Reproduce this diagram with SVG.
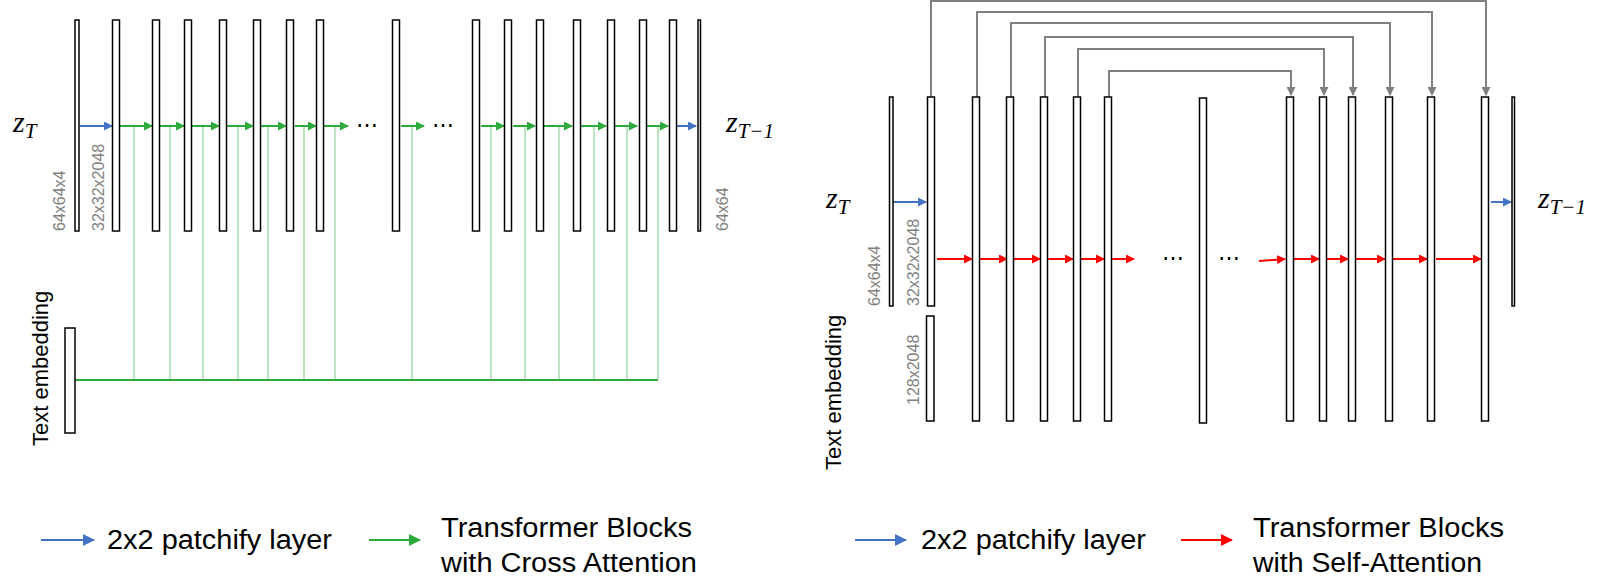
<svg xmlns="http://www.w3.org/2000/svg" width="1600" height="587" viewBox="0 0 1600 587">
<style>
.b{fill:#fff;stroke:#000;stroke-width:1.5}
.g{stroke:#2eaa3c;stroke-width:2;fill:none}
.gl{stroke:#8fd398;stroke-width:1.2;fill:none}
.bl{stroke:#4472c4;stroke-width:2;fill:none}
.r{stroke:#f00;stroke-width:2;fill:none}
.k{stroke:#808080;stroke-width:2;fill:none}
.dim{font-family:"Liberation Sans",Arial,sans-serif;font-size:16px;fill:#808080}
.lab{font-family:"Liberation Sans",Arial,sans-serif;font-size:22px;fill:#000}
.leg{font-family:"Liberation Sans",Arial,sans-serif;font-size:27px;fill:#000}
.z{font-family:"Liberation Serif","DejaVu Serif",serif;font-style:italic;font-size:30px;fill:#000}
.zs{font-size:21px}
.dots{font-family:"Liberation Sans",Arial,sans-serif;font-size:22px;fill:#000}
</style>
<defs>
<marker id="ag" markerWidth="9" markerHeight="9" refX="8" refY="4.5" orient="auto" markerUnits="userSpaceOnUse"><path d="M0,0L9,4.5L0,9z" fill="#2eaa3c"/></marker>
<marker id="ab" markerWidth="9" markerHeight="9" refX="8" refY="4.5" orient="auto" markerUnits="userSpaceOnUse"><path d="M0,0L9,4.5L0,9z" fill="#4472c4"/></marker>
<marker id="ar" markerWidth="9" markerHeight="9" refX="8" refY="4.5" orient="auto" markerUnits="userSpaceOnUse"><path d="M0,0L9,4.5L0,9z" fill="#f00"/></marker>
<marker id="ak" markerWidth="9" markerHeight="9" refX="8" refY="4.5" orient="auto" markerUnits="userSpaceOnUse"><path d="M0,0L9,4.5L0,9z" fill="#808080"/></marker>
<marker id="agL" markerWidth="12" markerHeight="12" refX="11" refY="6" orient="auto" markerUnits="userSpaceOnUse"><path d="M0,0L12,6L0,12z" fill="#2eaa3c"/></marker>
<marker id="abL" markerWidth="12" markerHeight="12" refX="11" refY="6" orient="auto" markerUnits="userSpaceOnUse"><path d="M0,0L12,6L0,12z" fill="#4472c4"/></marker>
<marker id="arL" markerWidth="12" markerHeight="12" refX="11" refY="6" orient="auto" markerUnits="userSpaceOnUse"><path d="M0,0L12,6L0,12z" fill="#f00"/></marker>
</defs>
<rect width="1600" height="587" fill="#fff"/>

<!-- LEFT connectors -->
<g id="left-connectors">
<path class="gl" d="M134,126V380M170,126V380M203,126V380M238,126V380M268,126V380M304,126V380M335,126V380M412,126V380M491,126V380M525,126V380M559,126V380M594,126V380M627,126V380M658,126V380"/>
<path class="g" d="M75,380H658" stroke-width="1.5"/>
<line class="bl" x1="80" y1="126" x2="112" y2="126" marker-end="url(#ab)"/>
<line class="g" x1="120" y1="126" x2="152" y2="126" marker-end="url(#ag)"/>
<line class="g" x1="160" y1="126" x2="184" y2="126" marker-end="url(#ag)"/>
<line class="g" x1="192" y1="126" x2="219" y2="126" marker-end="url(#ag)"/>
<line class="g" x1="227" y1="126" x2="253" y2="126" marker-end="url(#ag)"/>
<line class="g" x1="261" y1="126" x2="286" y2="126" marker-end="url(#ag)"/>
<line class="g" x1="295" y1="126" x2="316" y2="126" marker-end="url(#ag)"/>
<line class="g" x1="324" y1="126" x2="348" y2="126" marker-end="url(#ag)"/>
<line class="g" x1="401" y1="126" x2="424" y2="126" marker-end="url(#ag)"/>
<line class="g" x1="481" y1="126" x2="504" y2="126" marker-end="url(#ag)"/>
<line class="g" x1="513" y1="126" x2="535" y2="126" marker-end="url(#ag)"/>
<line class="g" x1="544" y1="126" x2="572" y2="126" marker-end="url(#ag)"/>
<line class="g" x1="581" y1="126" x2="606" y2="126" marker-end="url(#ag)"/>
<line class="g" x1="615" y1="126" x2="637" y2="126" marker-end="url(#ag)"/>
<line class="g" x1="647" y1="126" x2="668" y2="126" marker-end="url(#ag)"/>
<line class="bl" x1="677" y1="126" x2="696" y2="126" stroke-width="3" marker-end="url(#ab)"/>
</g>
<g id="left-nodes">
<rect class="b" x="75" y="20" width="4" height="211"/>
<rect class="b" x="112.5" y="20" width="7" height="211"/>
<rect class="b" x="152.5" y="20" width="7" height="211"/>
<rect class="b" x="184.5" y="20" width="7" height="211"/>
<rect class="b" x="219.5" y="20" width="7" height="211"/>
<rect class="b" x="253.5" y="20" width="7" height="211"/>
<rect class="b" x="286.5" y="20" width="7" height="211"/>
<rect class="b" x="316.5" y="20" width="7" height="211"/>
<rect class="b" x="392.5" y="20" width="7" height="211"/>
<rect class="b" x="472.5" y="20" width="7" height="211"/>
<rect class="b" x="504.5" y="20" width="7" height="211"/>
<rect class="b" x="536.5" y="20" width="7" height="211"/>
<rect class="b" x="573.5" y="20" width="7" height="211"/>
<rect class="b" x="607.5" y="20" width="7" height="211"/>
<rect class="b" x="639.5" y="20" width="7" height="211"/>
<rect class="b" x="669.5" y="20" width="7" height="211"/>
<rect class="b" x="698" y="20" width="2.5" height="211"/>
<rect class="b" x="65" y="328" width="10" height="105"/>
<text class="dots" x="356" y="132">⋯</text>
<text class="dots" x="432" y="132">⋯</text>
<text class="z" x="13" y="132">z<tspan class="zs" dy="6">T</tspan></text>
<text class="z" x="726" y="132">z<tspan class="zs" dy="6">T−1</tspan></text>
<text class="dim" transform="translate(65,231) rotate(-90)">64x64x4</text>
<text class="dim" transform="translate(104,231) rotate(-90)">32x32x2048</text>
<text class="dim" transform="translate(728,231) rotate(-90)">64x64</text>
<text class="lab" transform="translate(48,446) rotate(-90)">Text embedding</text>
</g>
<g id="left-legend">
<line class="bl" x1="41" y1="540" x2="94" y2="540" stroke-width="4" marker-end="url(#abL)"/>
<text class="leg" x="107" y="549" textLength="225" lengthAdjust="spacingAndGlyphs">2x2 patchify layer</text>
<line class="g" x1="369" y1="540" x2="420" y2="540" stroke-width="4" marker-end="url(#agL)"/>
<text class="leg" x="441" y="537" textLength="251" lengthAdjust="spacingAndGlyphs">Transformer Blocks</text>
<text class="leg" x="441" y="572" textLength="256" lengthAdjust="spacingAndGlyphs">with Cross Attention</text>
</g>

<!-- RIGHT connectors -->
<g id="right-connectors">
<path class="k" d="M931,97V1H1486V95" marker-end="url(#ak)"/>
<path class="k" d="M977,97V12H1432V95" marker-end="url(#ak)"/>
<path class="k" d="M1011,97V23H1390V95" marker-end="url(#ak)"/>
<path class="k" d="M1045,97V37H1353V95" marker-end="url(#ak)"/>
<path class="k" d="M1078,97V49H1324V95" marker-end="url(#ak)"/>
<path class="k" d="M1109,97V71H1291V95" marker-end="url(#ak)"/>
<line class="bl" x1="893" y1="202" x2="926" y2="202" marker-end="url(#ab)"/>
<line class="bl" x1="1491" y1="202" x2="1511" y2="202" stroke-width="3" marker-end="url(#ab)"/>
<line class="r" x1="937" y1="259" x2="972" y2="259" marker-end="url(#ar)"/>
<line class="r" x1="980" y1="259" x2="1007" y2="259" marker-end="url(#ar)"/>
<line class="r" x1="1014" y1="259" x2="1040" y2="259" marker-end="url(#ar)"/>
<line class="r" x1="1048" y1="259" x2="1073" y2="259" marker-end="url(#ar)"/>
<line class="r" x1="1081" y1="259" x2="1104" y2="259" marker-end="url(#ar)"/>
<line class="r" x1="1112" y1="259" x2="1134" y2="259" marker-end="url(#ar)"/>
<line class="r" x1="1259" y1="261" x2="1285" y2="259" marker-end="url(#ar)"/>
<line class="r" x1="1294" y1="259" x2="1319" y2="259" marker-end="url(#ar)"/>
<line class="r" x1="1327" y1="259" x2="1348" y2="259" marker-end="url(#ar)"/>
<line class="r" x1="1356" y1="259" x2="1385" y2="259" marker-end="url(#ar)"/>
<line class="r" x1="1393" y1="259" x2="1427" y2="259" marker-end="url(#ar)"/>
<line class="r" x1="1436" y1="259" x2="1481" y2="259" marker-end="url(#ar)"/>
</g>
<g id="right-nodes">
<rect class="b" x="889.5" y="97" width="3.5" height="209"/>
<rect class="b" x="927.5" y="97" width="7" height="209"/>
<rect class="b" x="926.5" y="316" width="7.5" height="105"/>
<rect class="b" x="972.5" y="97" width="7" height="324"/>
<rect class="b" x="1006.5" y="97" width="7" height="324"/>
<rect class="b" x="1040.5" y="97" width="7" height="324"/>
<rect class="b" x="1073.5" y="97" width="7" height="324"/>
<rect class="b" x="1104.5" y="97" width="7" height="324"/>
<rect class="b" x="1199.5" y="98" width="7" height="325"/>
<rect class="b" x="1286.5" y="97" width="7" height="324"/>
<rect class="b" x="1319.5" y="97" width="7" height="324"/>
<rect class="b" x="1348.5" y="97" width="7" height="324"/>
<rect class="b" x="1385.5" y="97" width="7" height="324"/>
<rect class="b" x="1427.5" y="97" width="7" height="324"/>
<rect class="b" x="1481.5" y="97" width="7" height="324"/>
<rect class="b" x="1512" y="97" width="2.5" height="209"/>
<text class="dots" x="1162" y="265">⋯</text>
<text class="dots" x="1218" y="265">⋯</text>
<text class="z" x="826" y="208">z<tspan class="zs" dy="6">T</tspan></text>
<text class="z" x="1538" y="208">z<tspan class="zs" dy="6">T−1</tspan></text>
<text class="dim" transform="translate(880,306) rotate(-90)">64x64x4</text>
<text class="dim" transform="translate(919,306) rotate(-90)">32x32x2048</text>
<text class="dim" transform="translate(919,405) rotate(-90)">128x2048</text>
<text class="lab" transform="translate(841,470) rotate(-90)">Text embedding</text>
</g>
<g id="right-legend">
<line class="bl" x1="855" y1="540" x2="906" y2="540" stroke-width="4" marker-end="url(#abL)"/>
<text class="leg" x="921" y="549" textLength="225" lengthAdjust="spacingAndGlyphs">2x2 patchify layer</text>
<line class="r" x1="1181" y1="540" x2="1232" y2="540" stroke-width="4" marker-end="url(#arL)"/>
<text class="leg" x="1253" y="537" textLength="251" lengthAdjust="spacingAndGlyphs">Transformer Blocks</text>
<text class="leg" x="1253" y="572" textLength="229" lengthAdjust="spacingAndGlyphs">with Self-Attention</text>
</g>
</svg>
